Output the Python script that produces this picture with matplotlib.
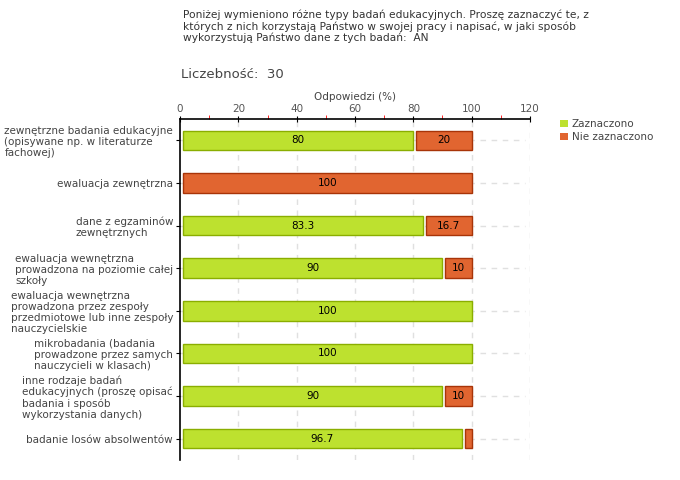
import matplotlib
matplotlib.use("Agg")
import matplotlib.pyplot as plt
from matplotlib.patches import Patch
from matplotlib.ticker import MultipleLocator

# data
categories = [
    "zewnętrzne badania edukacyjne\n(opisywane np. w literaturze\nfachowej)",
    "ewaluacja zewnętrzna",
    "dane z egzaminów\nzewnętrznych",
    "ewaluacja wewnętrzna\nprowadzona na poziomie całej\nszkoły",
    "ewaluacja wewnętrzna\nprowadzona przez zespoły\nprzedmiotowe lub inne zespoły\nnauczycielskie",
    "mikrobadania (badania\nprowadzone przez samych\nnauczycieli w klasach)",
    "inne rodzaje badań\nedukacyjnych (proszę opisać\nbadania i sposób\nwykorzystania danych)",
    "badanie losów absolwentów",
]
zaznaczono = [80, 0, 83.3, 90, 100, 100, 90, 96.7]
nie_zaznaczono = [20, 100, 16.7, 10, 0, 0, 10, 3.3]
series_names = ["Zaznaczono", "Nie zaznaczono"]
n_resp = 30

title = ("Poniżej wymieniono różne typy badań edukacyjnych. Proszę zaznaczyć te, z\n"
         "których z nich korzystają Państwo w swojej pracy i napisać, w jaki sposób\n"
         "wykorzystują Państwo dane z tych badań:  AN")

green, green_edge = "#bde12f", "#8aae00"
orange, orange_edge = "#e16530", "#a83408"
txt = "#444444"

fig = plt.figure(figsize=(6.8, 4.8), dpi=100)
ax = fig.add_axes([180/680, 20/480, 350/680, 341/480])

gap = 1.0
ypos = range(len(categories))
for i in ypos:
    start = 0
    for val, fc, ec in [(zaznaczono[i], green, green_edge), (nie_zaznaczono[i], orange, orange_edge)]:
        if val > 0:
            ax.barh(i, val - gap, left=start + gap, height=0.46, color=fc,
                    edgecolor=ec, linewidth=1.0, zorder=3)
            if val >= 5:
                ax.text(start + gap + (val - gap) / 2, i, f"{val:g}", ha="center",
                        va="center", fontsize=7.5, color="black", zorder=4)
        start += val

ax.set_xlim(0, 120)
ax.set_ylim(len(categories) - 0.5, -0.5)
ax.xaxis.tick_top()
ax.xaxis.set_label_position("top")
ax.set_xlabel("Odpowiedzi (%)", fontsize=7.5, color=txt, labelpad=3)
ax.xaxis.set_major_locator(MultipleLocator(20))
ax.xaxis.set_minor_locator(MultipleLocator(10))
ax.tick_params(axis="x", which="major", direction="inout", length=5, color="black",
               labelsize=7.5, labelcolor="#555555", pad=1)
ax.tick_params(axis="x", which="minor", direction="out", length=3, color="red")
ax.set_yticks(list(ypos))
ax.set_yticklabels(categories, fontsize=7.5, color=txt, multialignment="left",
                   linespacing=1.15)
ax.tick_params(axis="y", length=3, color="black", pad=2)

for s in ["right", "bottom"]:
    ax.spines[s].set_visible(False)
ax.spines["top"].set_linewidth(1.2)
ax.spines["left"].set_linewidth(1.2)

for x in range(20, 121, 20):
    ax.axvline(x, color="#e0e0e0", linestyle=(0, (4, 4)), linewidth=1, zorder=1)
for i in ypos:
    ax.axhline(i, xmin=0, xmax=0.985, color="#e0e0e0", linestyle=(0, (4, 4)),
               linewidth=1, zorder=1)

fig.text(183/680, 1 - 10/480, title, ha="left", va="top", fontsize=7.7,
         color="#333333", linespacing=1.1)
fig.text(181/680, 1 - 75/480, f"Liczebność:  {n_resp}", ha="left", va="center",
         fontsize=9.5, color=txt)

handles = [Patch(facecolor=green, edgecolor="none"), Patch(facecolor=orange, edgecolor="none")]
fig.legend(handles, series_names, loc="upper left", bbox_to_anchor=(551/680, 1 - 110/480),
           frameon=False, fontsize=7.5, handlelength=0.7, handleheight=0.7,
           handletextpad=0.4, labelspacing=0.25, labelcolor=txt)

fig.savefig("out.png", dpi=100)
